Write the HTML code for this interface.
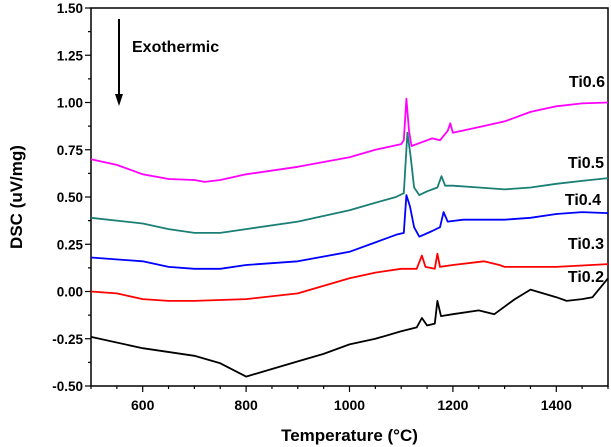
<!DOCTYPE html>
<html><head><meta charset="utf-8"><style>
body{margin:0;background:#fff}
svg{display:block;font-family:"Liberation Sans",sans-serif}
</style></head><body>
<svg id="c" width="611" height="447">
<g id="axes"></g><g id="series"></g>
</svg>
<script>
const xTicks=[600,800,1000,1200,1400];
const yTicks=[-0.5,-0.25,0,0.25,0.5,0.75,1.0,1.25,1.5];
const seriesNames=["Ti0.6","Ti0.5","Ti0.4","Ti0.3","Ti0.2"];
const seriesColors=["#ff00ff","#1a7f74","#0000ff","#ff0000","#000000"];
const ti06T=[500,550,600,650,700,720,750,800,900,1000,1050,1100,1105,1110,1115,1120,1140,1160,1175,1190,1195,1200,1250,1300,1350,1400,1450,1500];
const ti06V=[0.70,0.67,0.62,0.595,0.59,0.58,0.59,0.62,0.66,0.71,0.75,0.78,0.80,1.02,0.85,0.77,0.79,0.81,0.80,0.85,0.89,0.84,0.87,0.90,0.95,0.98,0.995,1.00];
const ti05T=[500,600,650,700,750,800,900,1000,1050,1090,1105,1112,1118,1125,1135,1150,1170,1178,1185,1200,1250,1300,1350,1400,1450,1500];
const ti05V=[0.39,0.36,0.33,0.31,0.31,0.33,0.37,0.43,0.47,0.50,0.52,0.84,0.72,0.55,0.51,0.53,0.55,0.61,0.56,0.56,0.55,0.54,0.55,0.57,0.585,0.60];
const ti04T=[500,600,650,700,750,800,900,1000,1050,1090,1105,1110,1117,1125,1135,1160,1175,1182,1190,1220,1300,1350,1400,1450,1500];
const ti04V=[0.18,0.16,0.13,0.12,0.12,0.14,0.16,0.21,0.26,0.30,0.31,0.51,0.45,0.34,0.29,0.32,0.34,0.42,0.37,0.38,0.38,0.39,0.41,0.42,0.415];
const ti03T=[500,550,600,650,700,800,900,1000,1050,1100,1130,1140,1147,1165,1170,1175,1200,1260,1290,1300,1400,1500];
const ti03V=[0.0,-0.01,-0.04,-0.05,-0.05,-0.04,-0.01,0.07,0.10,0.12,0.12,0.19,0.13,0.12,0.20,0.13,0.14,0.16,0.14,0.13,0.13,0.145];
const ti02T=[500,600,700,750,800,850,900,950,1000,1050,1100,1130,1140,1150,1165,1170,1177,1200,1250,1280,1320,1350,1400,1420,1450,1470,1500];
const ti02V=[-0.24,-0.30,-0.34,-0.38,-0.45,-0.41,-0.37,-0.33,-0.28,-0.25,-0.21,-0.19,-0.14,-0.18,-0.17,-0.05,-0.13,-0.12,-0.10,-0.12,-0.04,0.01,-0.03,-0.05,-0.04,-0.03,0.07];
const labelPos=[[605,87],[604,168],[601,205],[604,249],[604,282]];
const X0=91,X1=608,Y0=8,Y1=386;
const sx=t=>X0+(t-500)/1000*(X1-X0);
const sy=v=>Y1-(v+0.5)/2*(Y1-Y0);
const NS="http://www.w3.org/2000/svg";
function mk(tag,attrs,parent,text){const e=document.createElementNS(NS,tag);for(const k in attrs)e.setAttribute(k,attrs[k]);if(text!==undefined)e.textContent=text;parent.appendChild(e);return e;}
const ax=document.getElementById('axes');
let frame=mk('rect',{x:X0,y:Y0,width:X1-X0,height:Y1-Y0,fill:'none',stroke:'#000','stroke-width':1.5},ax);


for(let t=500;t<=1500;t+=50){const x=sx(t);const major=t%200===0;
 const tk=mk('line',{x1:x,x2:x,y1:Y1,y2:Y1+(major?6:3),stroke:'#000','stroke-width':1.2},ax);
 
 }
xTicks.forEach(t=>{const l=mk('text',{x:sx(t),y:Y1+24,'text-anchor':'middle','font-size':14,'font-weight':'bold'},ax,String(t));
 
 });
for(let i=0;i<=16;i++){const v=-0.5+i*0.125;const y=sy(v);const major=i%2===0;
 const tk=mk('line',{x1:X0-(major?6:3),x2:X0,y1:y,y2:y,stroke:'#000','stroke-width':1.2},ax);
 
 }
yTicks.forEach(v=>{const l=mk('text',{x:X0-8,y:sy(v)+5,'text-anchor':'end','font-size':13.5,'font-weight':'bold'},ax,v.toFixed(2));
 
 });
let xt=mk('text',{x:(X0+X1)/2,y:441,'text-anchor':'middle','font-size':17,'font-weight':'bold'},ax,'Temperature (°C)');


let yt=mk('text',{x:22,y:197,'text-anchor':'middle','font-size':17,'font-weight':'bold',transform:'rotate(-90 22 197)'},ax,'DSC (uV/mg)');


let ar=mk('line',{x1:119,y1:19,x2:119,y2:96,stroke:'#000','stroke-width':2},ax);


let ah=mk('polygon',{points:'115,94 123,94 119,106',fill:'#000'},ax);


let ex=mk('text',{x:132,y:52,'font-size':16,'font-weight':'bold'},ax,'Exothermic');


const sg=document.getElementById('series');
const Ts=[ti06T,ti05T,ti04T,ti03T,ti02T],Vs=[ti06V,ti05V,ti04V,ti03V,ti02V];
Ts.forEach((T,i)=>{const d=T.map((t,j)=>(j?'L':'M')+sx(t).toFixed(1)+' '+sy(Vs[i][j]).toFixed(1)).join(' ');
 const p=mk('path',{d:d,fill:'none',stroke:seriesColors[i],'stroke-width':1.8,'stroke-linejoin':'round'},sg);
 
 
 const l=mk('text',{x:labelPos[i][0],y:labelPos[i][1],'text-anchor':'end','font-size':16,'font-weight':'bold'},sg,seriesNames[i]);
 
 });
</script>
</body></html>
